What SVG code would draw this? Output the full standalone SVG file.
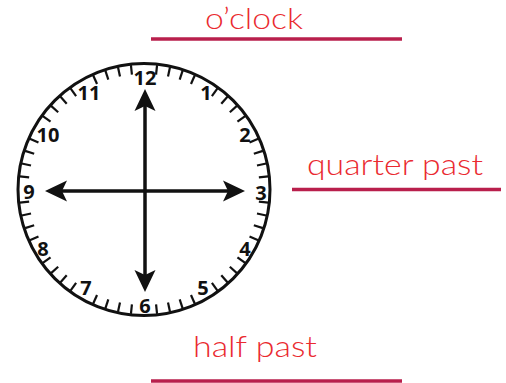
<svg xmlns="http://www.w3.org/2000/svg" width="506" height="383" viewBox="0 0 506 383">
<style>
.num{font-family:"Open Sans","Liberation Sans",sans-serif;font-weight:700;font-size:20px;fill:#111;text-anchor:middle;dominant-baseline:central}
.lbl{font-family:Lato,"Open Sans",sans-serif;font-weight:300;font-size:29px;fill:#ea2a30}
.rule{stroke:#b91f4c;stroke-width:3.5}
.tick{stroke:#111;stroke-width:2.2}
.hand{stroke:#111;stroke-width:3.5;fill:none}
</style>
<defs>
<line id="tk" class="tick" x1="144" y1="64.5" x2="144" y2="74"/>
<marker id="ah" markerUnits="userSpaceOnUse" markerWidth="24" markerHeight="22" refX="16" refY="11" orient="auto-start-reverse">
<path d="M22,11 L0,0.5 L5,11 L0,21.5 Z" fill="#111"/>
</marker>
</defs>
<rect width="506" height="383" fill="#fff"/>
<g id="clock">
<circle cx="144" cy="189.5" r="126" fill="#fff" stroke="#111" stroke-width="3"/>
<g id="ticks">
<use href="#tk" transform="rotate(6 144 189.5)"/><use href="#tk" transform="rotate(12 144 189.5)"/><use href="#tk" transform="rotate(18 144 189.5)"/><use href="#tk" transform="rotate(24 144 189.5)"/>
<use href="#tk" transform="rotate(36 144 189.5)"/><use href="#tk" transform="rotate(42 144 189.5)"/><use href="#tk" transform="rotate(48 144 189.5)"/><use href="#tk" transform="rotate(54 144 189.5)"/>
<use href="#tk" transform="rotate(66 144 189.5)"/><use href="#tk" transform="rotate(72 144 189.5)"/><use href="#tk" transform="rotate(78 144 189.5)"/><use href="#tk" transform="rotate(84 144 189.5)"/>
<use href="#tk" transform="rotate(96 144 189.5)"/><use href="#tk" transform="rotate(102 144 189.5)"/><use href="#tk" transform="rotate(108 144 189.5)"/><use href="#tk" transform="rotate(114 144 189.5)"/>
<use href="#tk" transform="rotate(126 144 189.5)"/><use href="#tk" transform="rotate(132 144 189.5)"/><use href="#tk" transform="rotate(138 144 189.5)"/><use href="#tk" transform="rotate(144 144 189.5)"/>
<use href="#tk" transform="rotate(156 144 189.5)"/><use href="#tk" transform="rotate(162 144 189.5)"/><use href="#tk" transform="rotate(168 144 189.5)"/><use href="#tk" transform="rotate(174 144 189.5)"/>
<use href="#tk" transform="rotate(186 144 189.5)"/><use href="#tk" transform="rotate(192 144 189.5)"/><use href="#tk" transform="rotate(198 144 189.5)"/><use href="#tk" transform="rotate(204 144 189.5)"/>
<use href="#tk" transform="rotate(216 144 189.5)"/><use href="#tk" transform="rotate(222 144 189.5)"/><use href="#tk" transform="rotate(228 144 189.5)"/><use href="#tk" transform="rotate(234 144 189.5)"/>
<use href="#tk" transform="rotate(246 144 189.5)"/><use href="#tk" transform="rotate(252 144 189.5)"/><use href="#tk" transform="rotate(258 144 189.5)"/><use href="#tk" transform="rotate(264 144 189.5)"/>
<use href="#tk" transform="rotate(276 144 189.5)"/><use href="#tk" transform="rotate(282 144 189.5)"/><use href="#tk" transform="rotate(288 144 189.5)"/><use href="#tk" transform="rotate(294 144 189.5)"/>
<use href="#tk" transform="rotate(306 144 189.5)"/><use href="#tk" transform="rotate(312 144 189.5)"/><use href="#tk" transform="rotate(318 144 189.5)"/><use href="#tk" transform="rotate(324 144 189.5)"/>
<use href="#tk" transform="rotate(336 144 189.5)"/><use href="#tk" transform="rotate(342 144 189.5)"/><use href="#tk" transform="rotate(348 144 189.5)"/><use href="#tk" transform="rotate(354 144 189.5)"/>
</g>
<g id="numbers">
<text class="num" x="145" y="77">12</text>
<text class="num" x="206" y="92">1</text>
<text class="num" x="245" y="134">2</text>
<text class="num" x="261" y="192">3</text>
<text class="num" x="245" y="248">4</text>
<text class="num" x="203" y="287">5</text>
<text class="num" x="145" y="305">6</text>
<text class="num" x="86" y="287">7</text>
<text class="num" x="43" y="248">8</text>
<text class="num" x="29" y="191">9</text>
<text class="num" x="48" y="134">10</text>
<text class="num" x="89" y="92">11</text>
</g>
</g>
<g id="connectors">
<line class="hand" x1="145" y1="95" x2="145" y2="286" marker-start="url(#ah)" marker-end="url(#ah)"/>
<line class="hand" x1="51" y1="191" x2="239" y2="191" marker-start="url(#ah)" marker-end="url(#ah)"/>
</g>
<g id="label-oclock">
<text class="lbl" x="205" y="29" textLength="98" lengthAdjust="spacingAndGlyphs">o’clock</text>
<line class="rule" x1="151" y1="39" x2="402" y2="39"/>
</g>
<g id="label-quarter">
<text class="lbl" x="307" y="175" textLength="176" lengthAdjust="spacingAndGlyphs">quarter past</text>
<line class="rule" x1="292" y1="189.5" x2="501" y2="189.5"/>
</g>
<g id="label-half">
<text class="lbl" x="193" y="357" textLength="124" lengthAdjust="spacingAndGlyphs">half past</text>
<line class="rule" x1="151" y1="381" x2="402" y2="381"/>
</g>
</svg>
